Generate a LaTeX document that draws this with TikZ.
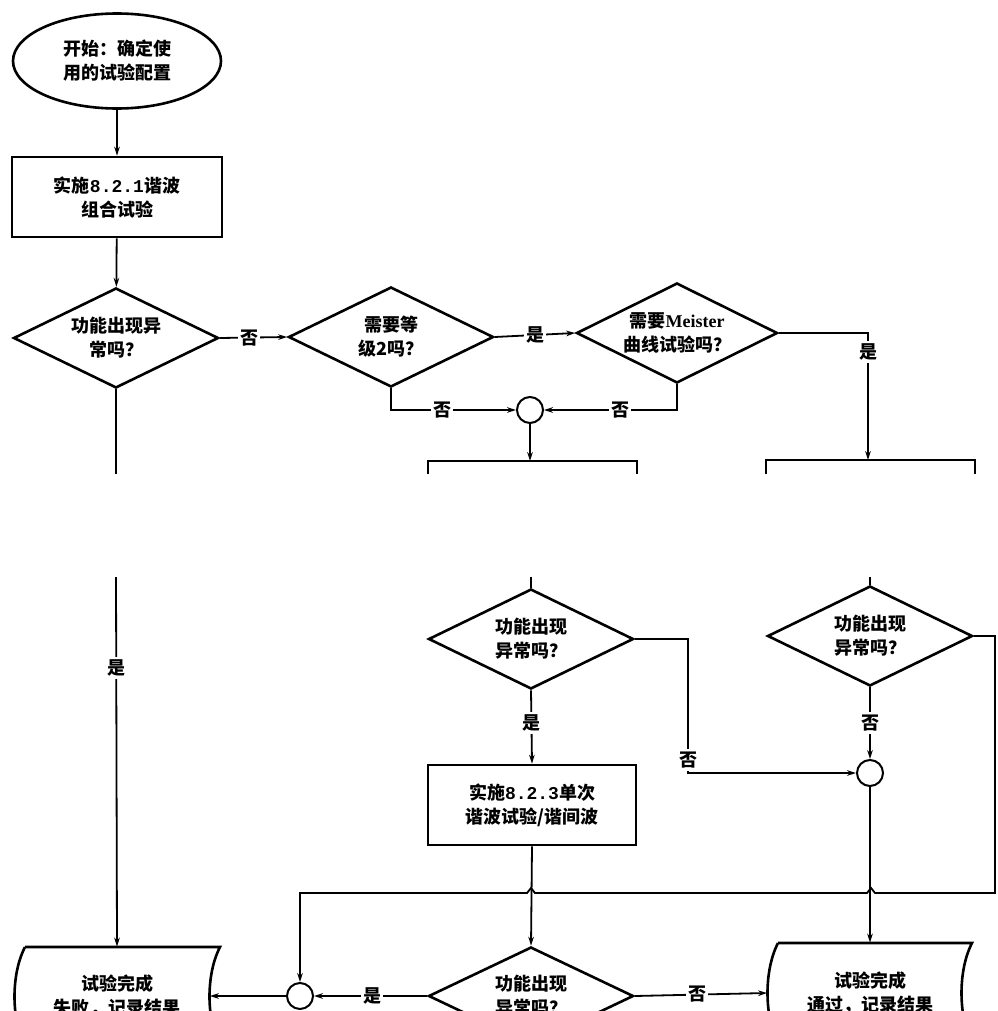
\documentclass[tikz,border=0pt]{standalone}
\usepackage{fontspec}
\setmainfont{Noto Sans CJK SC}
\newfontfamily\latinserif{Liberation Serif}
\newfontfamily\digitfont{Liberation Mono}
\usetikzlibrary{shapes.geometric,arrows.meta}
\begin{document}
\begin{tikzpicture}[x=0.5pt,y=-0.5pt,
  every node/.style={font=\fontsize{9}{12}\selectfont\bfseries},
  conn/.style={line width=0.9pt},
  arr/.style={conn,-{Stealth[length=4.5pt,width=2.8pt]}},
  outline/.style={line width=1.3pt},
  startst/.style={draw,ellipse,outline,minimum width=104pt,minimum height=47.5pt,inner sep=0pt,align=center},
  box/.style={draw,rectangle,outline,minimum width=105pt,minimum height=40pt,inner sep=0pt,align=center},
  dec/.style={draw,diamond,aspect=2.05,outline,minimum width=102.5pt,minimum height=50pt,inner sep=0pt,align=center},
  junc/.style={draw,circle,line width=1pt,minimum size=13pt,inner sep=0pt},
  plain/.style={rectangle,inner sep=0pt,align=center},
  lab/.style={fill=white,inner sep=1.2pt}]
\useasboundingbox (0,0) rectangle (997,1011);
\clip (0,0) rectangle (997,1011);

% ---- nodes ----
\node[startst] (start) at (117,61) {开始：确定使\\用的试验配置};
\node[box] (b1) at (117,197) {实施{\digitfont\bfseries 8.2.1}谐波\\组合试验};
\node[dec] (d1) at (116,338) {功能出现异\\常吗？};
\node[dec] (d2) at (391,337) {需要等\\级2吗？};
\node[dec,minimum width=100.5pt] (d3) at (677,333) {需要{\latinserif\bfseries Meister}\\曲线试验吗？};
\node[junc] (c1) at (530,410) {};
\coordinate (aTop) at (530,461);
\coordinate (bTop) at (868,460);
\coordinate (cutA) at (116,474);
\coordinate (cutB) at (116,577);
\coordinate (cutC) at (531,577);
\coordinate (cutD) at (870,577);
\node[dec] (d4) at (531,639) {功能出现\\异常吗？};
\node[dec] (d5) at (870,636) {功能出现\\异常吗？};
\node[junc] (c2) at (870,773) {};
\node[box,minimum width=104pt] (bc) at (532,805) {实施{\digitfont\bfseries 8.2.3}单次\\谐波试验/谐间波};
\node[dec,minimum height=49pt] (d6) at (531,996) {功能出现\\异常吗？};
\node[junc] (c3) at (300,996) {};
\node[plain,minimum width=92.5pt,minimum height=49pt] (fail) at (117,996) {试验完成\\失败，记录结果};
\node[plain,minimum width=102.5pt,minimum height=50pt] (pass) at (870,993) {试验完成\\通过，记录结果};

% partial boxes (cut by the blank band)
\draw[outline] (428,474) |- (637,461) -- (637,474);
\draw[outline] (766,474) |- (975,460) -- (975,474);

% stored-data style outlines of the end boxes
\draw[outline] (25,947) -- (220,947) .. controls (206,974) and (206,1019) .. (220,1046)
  -- (25,1046) .. controls (11,1019) and (11,974) .. (25,947);
\draw[outline] (778,943) -- (972,943) .. controls (958,970) and (958,1016) .. (972,1043)
  -- (778,1043) .. controls (764,1016) and (764,970) .. (778,943);

% ---- connectors ----
\draw[arr] (start) -- (b1);
\draw[arr] (b1) -- (d1);
\draw[arr] (d1.east) -- (d2.west);
\draw[arr] (d2.east) -- (d3.west);
\draw[arr] (d3.east) -| (bTop);
\draw[arr] (d2.south) |- (c1.west);
\draw[arr] (d3.south) |- (c1.east);
\draw[arr] (c1.south) -- (aTop);
\draw[conn] (d1.south) -- (cutA);
\draw[arr] (cutB) -- (fail.north);
\draw[conn] (cutC) -- (d4.north);
\draw[conn] (cutD) -- (d5.north);
\draw[arr] (d4.east) -- (688,639) |- (c2.west);
\draw[arr] (d4.south) -- (bc.north);
\draw[arr] (d5.south) -- (c2.north);
\draw[arr] (bc.south) -- (d6.north);
\draw[arr] (c2.south) -- (pass.north);
\draw[arr] (d6.west) -- (c3.east);
\draw[arr] (c3.west) -- (fail.east);
\draw[arr] (d6.east) -- (pass.west);
\draw[arr] (d5.east) -- (995,636) -- (995,893) -- (875,893) -- (871,888) -- (867,893)
  -- (535,893) -- (531,888) -- (527,893) -| (c3.north);

% ---- labels ----
\node[lab] (l1) at (249,338) {否};
\node[lab] (l2) at (535,335) {是};
\node[lab] (l3) at (868,352) {是};
\node[lab] (l4) at (442,410) {否};
\node[lab] (l5) at (620,410) {否};
\node[lab] (l6) at (116,668) {是};
\node[lab] (l7) at (531,723) {是};
\node[lab] (l8) at (688,760) {否};
\node[lab] (l9) at (870,723) {否};
\node[lab] (l10) at (372,996) {是};
\node[lab] (l11) at (697,994) {否};
\end{tikzpicture}
\end{document}
